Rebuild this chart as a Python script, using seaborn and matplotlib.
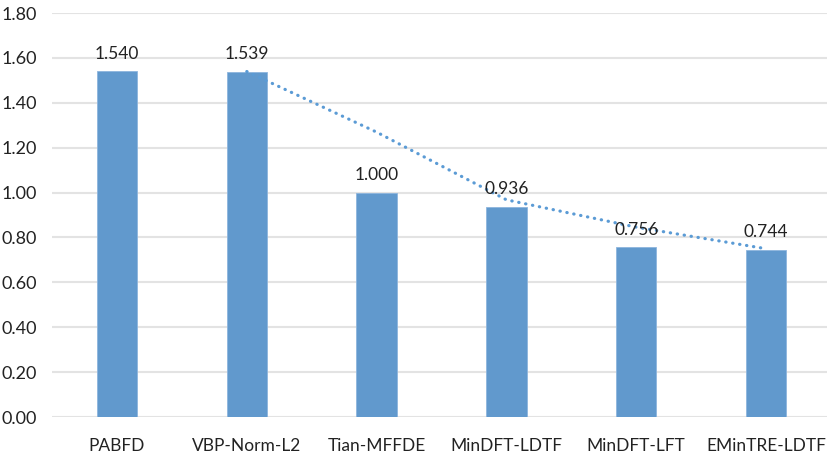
import matplotlib
matplotlib.use("Agg")
import matplotlib.pyplot as plt
import seaborn as sns
import pandas as pd

methods = ["PABFD", "VBP-Norm-L2", "Tian-MFFDE", "MinDFT-LDTF", "MinDFT-LFT", "EMinTRE-LDTF"]
scores = [1.540, 1.539, 1.000, 0.936, 0.756, 0.744]
y_ticks = [0.0, 0.2, 0.4, 0.6, 0.8, 1.0, 1.2, 1.4, 1.6, 1.8]

sns.set_theme(style="white")
plt.rcParams["font.family"] = ["Lato", "DejaVu Sans"]

df = pd.DataFrame({"method": methods, "score": scores})
bar_color = "#6199CD"

fig = plt.figure(figsize=(8.27, 4.59), dpi=100)
ax = fig.add_axes([0.063, 0.0915, 0.937, 0.880])

sns.barplot(data=df, x="method", y="score", color=bar_color, width=0.31,
            saturation=1, edgecolor="#8DB5DD", linewidth=0.6, ax=ax, zorder=3)

# two-period moving average trendline
trend = df["score"].rolling(2).mean()
ax.plot(range(len(methods)), trend, color="#5B9BD5", lw=2.3,
        linestyle=(0, (0.1, 2.1)), dash_capstyle="round", zorder=4)

for i, v in enumerate(scores):
    ax.annotate(f"{v:.3f}", (i, v), xytext=(0, 7), textcoords="offset points",
                ha="center", va="bottom", fontsize=12.5, color="#222222", zorder=5)

ax.set_ylim(0, 1.8)
ax.set_xlim(-0.5, 5.47)
ax.set_yticks(y_ticks)
ax.set_yticklabels([f"{t:.2f}" for t in y_ticks])
ax.yaxis.grid(True, color="#E3E3E3", lw=1.5, zorder=0)
ax.xaxis.grid(False)
for s in ax.spines.values():
    s.set_visible(False)
ax.tick_params(axis="y", length=0, pad=11, labelsize=13, labelcolor="#222222")
ax.tick_params(axis="x", length=0, pad=15, labelsize=12.5, labelcolor="#222222")
ax.set_xlabel("")
ax.set_ylabel("")

fig.savefig("out.png", dpi=100)
